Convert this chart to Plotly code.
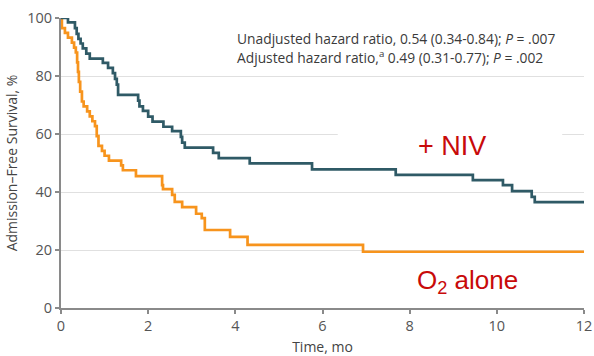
import plotly.graph_objects as go

# Kaplan-Meier step curves: event times (months) and admission-free survival (%)
niv_time = [0, 0.16, 0.32, 0.36, 0.40, 0.45, 0.50, 0.58, 0.66, 0.96, 1.08, 1.19,
            1.24, 1.28, 1.31, 1.77, 1.80, 1.88, 2.00, 2.10, 2.35, 2.55, 2.75,
            2.78, 2.84, 3.49, 3.62, 4.33, 5.76, 7.68, 9.45, 10.14, 10.35,
            10.80, 10.87, 12]
niv_surv = [100, 98.5, 96.5, 94.5, 92.8, 91.2, 89.5, 87.7, 86.0, 84.5, 82.8, 81.0,
            79.0, 77.0, 73.5, 71.5, 69.5, 68.0, 66.0, 64.3, 62.5, 61.0, 59.0,
            57.0, 55.3, 53.5, 51.7, 49.9, 47.8, 45.9, 44.1, 42.4, 40.3,
            38.3, 36.5, 36.5]

o2_time = [0, 0.02, 0.09, 0.16, 0.25, 0.30, 0.34, 0.37, 0.39, 0.41, 0.44, 0.48,
           0.52, 0.60, 0.66, 0.72, 0.78, 0.82, 0.86, 0.94, 1.00, 1.10, 1.38,
           1.42, 1.72, 2.32, 2.34, 2.55, 2.61, 2.78, 3.10, 3.23, 3.30, 3.88,
           4.28, 6.93, 12]
o2_surv = [100, 96.5, 94.9, 93.2, 91.5, 89.8, 88.1, 84.7, 81.4, 78.0, 74.6, 71.2,
           69.5, 67.8, 66.1, 64.4, 62.7, 59.3, 55.9, 54.2, 52.5, 50.8, 49.2,
           47.5, 45.5, 42.4, 41.0, 39.0, 36.6, 34.8, 32.5, 31.0, 26.9, 24.5,
           21.8, 19.4, 19.4]

x_ticks = [0, 2, 4, 6, 8, 10, 12]
y_ticks = [0, 20, 40, 60, 80, 100]

NIV_COLOR = "#2f5a66"
O2_COLOR = "#f7941d"
RED = "#c80a0a"
FONT = "Open Sans"

fig = go.Figure()
fig.add_trace(go.Scatter(x=o2_time, y=o2_surv, mode="lines", line_shape="hv",
                         line=dict(color=O2_COLOR, width=2.7), cliponaxis=False,
                         showlegend=False, hoverinfo="skip"))
fig.add_trace(go.Scatter(x=niv_time, y=niv_surv, mode="lines", line_shape="hv",
                         line=dict(color=NIV_COLOR, width=2.7), cliponaxis=False,
                         showlegend=False, hoverinfo="skip"))

# white panel behind the "+ NIV" label that hides the gridline there
fig.add_shape(type="rect", x0=6.35, x1=11.5, y0=57, y1=64, layer="between",
              fillcolor="white", line=dict(width=0))

fig.add_annotation(x=4.0, y=93.0, xanchor="left", yanchor="middle", showarrow=False,
                   text="Unadjusted hazard ratio, 0.54 (0.34-0.84); <i>P</i> = .007",
                   font=dict(family=FONT, size=13.8, color="#3a3a3a"))
fig.add_annotation(x=4.0, y=86.4, xanchor="left", yanchor="middle", showarrow=False,
                   text="Adjusted hazard ratio,<sup>a</sup> 0.49 (0.31-0.77); <i>P</i> = .002",
                   font=dict(family=FONT, size=13.8, color="#3a3a3a"))
fig.add_annotation(x=8.97, y=55.9, showarrow=False, text="+ NIV",
                   font=dict(family="Liberation Sans", size=27, color=RED))
fig.add_annotation(x=9.33, y=9.3, showarrow=False, text="O<sub>2</sub> alone",
                   font=dict(family="Liberation Sans", size=26, color=RED))

fig.update_layout(
    width=594, height=356,
    margin=dict(l=61, r=10, t=18, b=48),
    paper_bgcolor="white", plot_bgcolor="white",
    font=dict(family=FONT, color="#555"),
    xaxis=dict(range=[0, 12], tickvals=x_ticks, showgrid=False, zeroline=False,
               automargin=False,
               showline=True, linecolor="#8a8a8a", linewidth=2,
               ticks="outside", ticklen=4, tickcolor="#8a8a8a", tickwidth=1.5,
               tickfont=dict(size=14.5, color="#555"),
               title=dict(text="Time, mo", font=dict(size=14, color="#444"), standoff=8)),
    yaxis=dict(range=[0, 100], tickvals=y_ticks, showgrid=True, gridcolor="#e0e0e0",
               gridwidth=1.2, zeroline=False, automargin=False,
               showline=True, linecolor="#8a8a8a", linewidth=2,
               ticks="outside", ticklen=4, tickcolor="#8a8a8a", tickwidth=1.5,
               tickfont=dict(size=14.5, color="#555"),
               title=dict(text="Admission–Free Survival, %", font=dict(size=14, color="#444"),
                          standoff=6)),
)

fig.write_html("out.html")
